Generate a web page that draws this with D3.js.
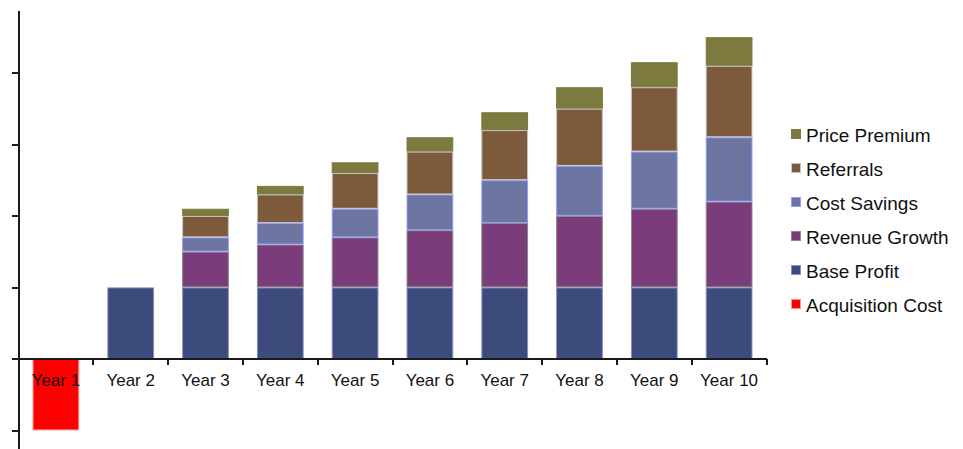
<!DOCTYPE html>
<meta charset="utf-8">
<style>
	body { margin: 0; background: #fff; }
	.xlabel { font: 17px "Liberation Sans", Arial, sans-serif; fill: #111; text-anchor: middle; }
	.legend text { font: 19px "Liberation Sans", Arial, sans-serif; fill: #111; }
	.axis path, .axis line { stroke: #1a1a1a; stroke-width: 2; shape-rendering: crispEdges; }
</style>
<body>
<script src="https://d3js.org/d3.v7.min.js"></script>
<script>

	var years = ["Year 1", "Year 2", "Year 3", "Year 4", "Year 5", "Year 6", "Year 7", "Year 8", "Year 9", "Year 10"];
	var acquisitionCost = [-1, 0, 0, 0, 0, 0, 0, 0, 0, 0];
	var baseProfit      = [0, 1, 1, 1, 1, 1, 1, 1, 1, 1];
	var revenueGrowth   = [0, 0, 0.5, 0.6, 0.7, 0.8, 0.9, 1.0, 1.1, 1.2];
	var costSavings     = [0, 0, 0.2, 0.3, 0.4, 0.5, 0.6, 0.7, 0.8, 0.9];
	var referrals       = [0, 0, 0.3, 0.4, 0.5, 0.6, 0.7, 0.8, 0.9, 1.0];
	var pricePremium    = [0, 0, 0.1, 0.12, 0.15, 0.2, 0.25, 0.3, 0.35, 0.4];
	var yTicks = [-1, 0, 1, 2, 3, 4];

	var keys = ["Acquisition Cost", "Base Profit", "Revenue Growth", "Cost Savings", "Referrals", "Price Premium"];
	var series = [acquisitionCost, baseProfit, revenueGrowth, costSavings, referrals, pricePremium];
	var fills   = ["#ff0000", "#3d4a7c", "#7a3c7a", "#6b75a0", "#7d5a3c", "#7c7a3e"];
	var strokes = ["#ff9090", "#8a8fc4", "#8a8a8a", "#9999ff", "#c4c4c4", "#7c7a3e"];

	var table = years.map(function(y, i) {
		var row = {year: y};
		keys.forEach(function(k, j) { row[k] = series[j][i]; });
		return row;
	});

	var width = 963, height = 449;

	var svg = d3.select("body").append("svg")
		.attr("width", width)
		.attr("height", height);

	var x = d3.scaleBand()
		.domain(years)
		.range([18.5, 766.5])
		.paddingInner(0.375)
		.paddingOuter(0.1875);

	var y = d3.scaleLinear()
		.domain([-1.26, 4.88])
		.range([449, 10]);

	var stacked = d3.stack()
		.keys(keys)
		.offset(d3.stackOffsetDiverging)(table);

	var layer = svg.selectAll(".layer")
		.data(stacked)
		.enter().append("g")
		.attr("class", "layer")
		.attr("fill", function(d, i) { return fills[i]; })
		.attr("stroke", function(d, i) { return strokes[i]; });

	layer.selectAll("rect")
		.data(function(d) { return d.filter(function(p) { return p[1] - p[0] !== 0; }); })
		.enter().append("rect")
		.attr("x", function(d) { return x(d.data.year) + 0.5; })
		.attr("width", x.bandwidth() - 1)
		.attr("y", function(d) { return y(Math.max(d[0], d[1])) + 0.5; })
		.attr("height", function(d) { return Math.abs(y(d[0]) - y(d[1])) - 1; });

	// y axis, no labels
	svg.append("g")
		.attr("class", "axis")
		.attr("transform", "translate(18.5,0)")
		.call(d3.axisLeft(y).tickValues(yTicks).tickFormat("").tickSize(7).tickSizeOuter(0));

	// x axis along zero
	var xBounds = years.map(function(d) { return x(d) + x.bandwidth() + x.step() * 0.1875; });
	var xa = svg.append("g").attr("class", "axis");
	xa.append("line")
		.attr("x1", 18.5).attr("x2", 766.5)
		.attr("y1", y(0)).attr("y2", y(0));
	xa.selectAll(".tick")
		.data(xBounds)
		.enter().append("line")
		.attr("x1", function(d) { return d; }).attr("x2", function(d) { return d; })
		.attr("y1", y(0)).attr("y2", y(0) + 6);

	svg.selectAll(".xlabel")
		.data(years)
		.enter().append("text")
		.attr("class", "xlabel")
		.attr("x", function(d) { return x(d) + x.bandwidth() / 2; })
		.attr("y", y(0) + 27)
		.text(function(d) { return d; });

	// legend, top entry is the top of the stack
	var legendKeys = keys.slice().reverse();
	var legend = svg.selectAll(".legend")
		.data(legendKeys)
		.enter().append("g")
		.attr("class", "legend")
		.attr("transform", function(d, i) { return "translate(791," + (141.5 + i * 34) + ")"; });

	legend.append("rect")
		.attr("x", 0.5).attr("y", -12)
		.attr("width", 9).attr("height", 9)
		.attr("fill", function(d) { return fills[keys.indexOf(d)]; })
		.attr("stroke", function(d) { return strokes[keys.indexOf(d)]; });

	legend.append("text")
		.attr("x", 15)
		.attr("y", 0)
		.text(function(d) { return d; });
</script>
